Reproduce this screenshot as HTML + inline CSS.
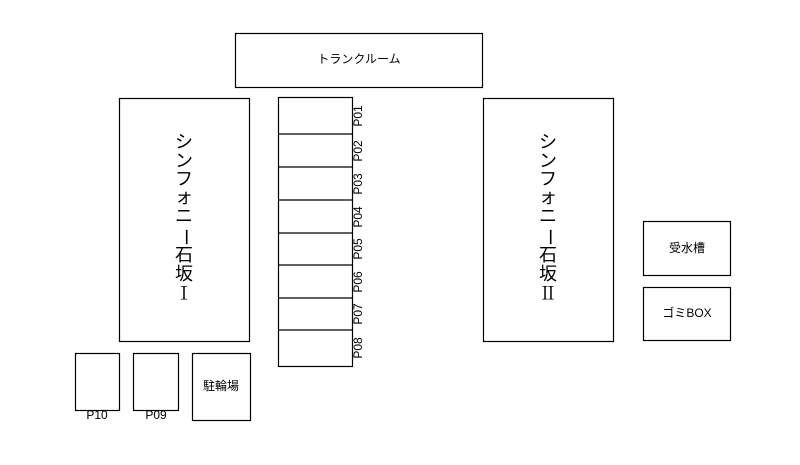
<!DOCTYPE html>
<html><head><meta charset="utf-8"><style>
body{margin:0;background:#fff}
svg text{font-family:"Liberation Sans","Noto Sans CJK JP",sans-serif;fill:#000}
svg text.n{font-family:"Noto Serif CJK SC","Noto Sans CJK JP",serif}
</style></head><body>
<svg width="800" height="460" xmlns="http://www.w3.org/2000/svg">
<g fill="none" stroke="#000" stroke-width="1.2">
<rect x="235.5" y="33.5" width="247" height="54"/>
<rect x="119.5" y="98.5" width="130" height="243"/>
<rect x="483.5" y="98.5" width="130" height="243"/>
<rect x="278.5" y="97.5" width="74" height="269"/>
<line x1="278" y1="134" x2="352" y2="134"/>
<line x1="278" y1="167" x2="352" y2="167"/>
<line x1="278" y1="200" x2="352" y2="200"/>
<line x1="278" y1="233" x2="352" y2="233"/>
<line x1="278" y1="265" x2="352" y2="265"/>
<line x1="278" y1="298" x2="352" y2="298"/>
<line x1="278" y1="330" x2="352" y2="330"/>
<rect x="643.5" y="221.5" width="87" height="54"/>
<rect x="643.5" y="287.5" width="87" height="53"/>
<rect x="75.5" y="353.5" width="44" height="57"/>
<rect x="133.5" y="353.5" width="45" height="57"/>
<rect x="192.5" y="353.5" width="58" height="67"/>
</g>
<text x="359" y="60" font-size="12" text-anchor="middle" dominant-baseline="middle">トランクルーム</text>
<g font-size="12" text-anchor="middle" dominant-baseline="middle">
<text transform="translate(359,116) rotate(-90)">P01</text>
<text transform="translate(359,151) rotate(-90)">P02</text>
<text transform="translate(359,184) rotate(-90)">P03</text>
<text transform="translate(359,217) rotate(-90)">P04</text>
<text transform="translate(359,249) rotate(-90)">P05</text>
<text transform="translate(359,282) rotate(-90)">P06</text>
<text transform="translate(359,314) rotate(-90)">P07</text>
<text transform="translate(359,348) rotate(-90)">P08</text>
<text x="97" y="416">P10</text>
<text x="156" y="416">P09</text>
<text x="221" y="387">駐輪場</text>
<text x="687" y="249">受水槽</text>
<text x="687" y="314">ゴミBOX</text>
</g>
<g font-size="18" text-anchor="middle" dominant-baseline="middle">
<text x="184" y="143">シ</text><text x="184" y="162">ン</text><text x="184" y="180">フ</text><text x="184" y="198">ォ</text><text x="184" y="217">ニ</text><text x="184" y="237" transform="rotate(90 184 237)">ー</text><text x="184" y="256">石</text><text x="184" y="275">坂</text><text class="n" x="184" y="295">Ⅰ</text>
<text x="548" y="143">シ</text><text x="548" y="162">ン</text><text x="548" y="180">フ</text><text x="548" y="198">ォ</text><text x="548" y="217">ニ</text><text x="548" y="237" transform="rotate(90 548 237)">ー</text><text x="548" y="256">石</text><text x="548" y="275">坂</text><text class="n" x="548" y="295">Ⅱ</text>
</g>
</svg>
</body></html>
